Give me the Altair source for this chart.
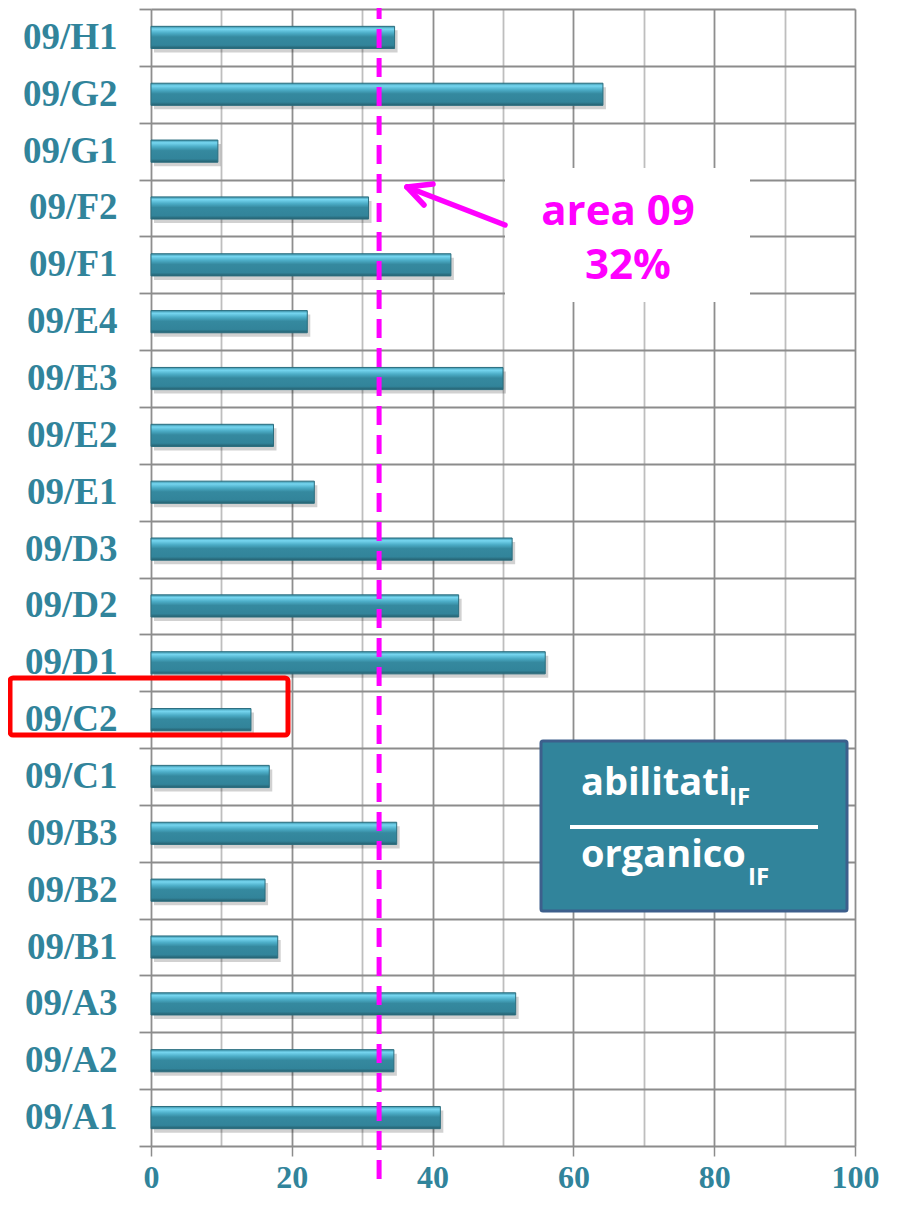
import altair as alt
import pandas as pd

# ---- data ----
categories = ["09/A1", "09/A2", "09/A3", "09/B1", "09/B2", "09/B3", "09/C1", "09/C2",
              "09/D1", "09/D2", "09/D3", "09/E1", "09/E2", "09/E3", "09/E4",
              "09/F1", "09/F2", "09/G1", "09/G2", "09/H1"]
values = [41.1, 34.5, 51.8, 18.0, 16.2, 34.9, 16.8, 14.2,
          56.0, 43.7, 51.3, 23.2, 17.4, 50.0, 22.2,
          42.6, 30.9, 9.5, 64.2, 34.6]
area_mean = 32.4
area_label = ["area 09", "32%"]
x_ticks = [0, 10, 20, 30, 40, 50, 60, 70, 80, 90, 100]

order_top_down = list(reversed(categories))
df = pd.DataFrame({"settore": categories, "valore": values})

TEAL = "#31849B"
MAGENTA = "#FF00FF"
GRID = "#8C8C8C"
W, H = 704, 1137

bar_grad = alt.Gradient(
    gradient="linear",
    stops=[
        alt.GradientStop(color="#3A8FA6", offset=0),
        alt.GradientStop(color="#76D6F0", offset=0.12),
        alt.GradientStop(color="#4CADC7", offset=0.3),
        alt.GradientStop(color="#35899F", offset=0.48),
        alt.GradientStop(color="#32849A", offset=0.85),
        alt.GradientStop(color="#255F6E", offset=1),
    ],
    x1=0, x2=0, y1=0, y2=1,
)

x_enc = alt.X(
    "valore:Q",
    scale=alt.Scale(domain=[0, 100], nice=False),
    axis=alt.Axis(
        title=None,
        values=x_ticks,
        labelExpr="datum.value % 20 == 0 ? datum.label : ''",
        labelFlush=False,
        labelOverlap=False,
        labelFont="Liberation Serif",
        labelFontWeight="bold",
        labelFontSize=32,
        labelColor=TEAL,
        labelPadding=6,
        tickSize=10,
        tickColor=GRID,
        tickWidth=1.5,
        tickOpacity={"condition": {"test": "datum.value % 20 != 0", "value": 0}, "value": 1},
        grid=True,
        gridColor={"condition": {"test": "datum.value % 20 != 0", "value": "#BEBEBE"}, "value": "#8E8E8E"},
        gridWidth=1.8,
        domain=False,
    ),
)
y_enc = alt.Y(
    "settore:N",
    sort=order_top_down,
    scale=alt.Scale(paddingInner=0, paddingOuter=0),
    axis=alt.Axis(
        title=None,
        tickBand="extent",
        labelFont="Liberation Serif",
        labelFontWeight="bold",
        labelFontSize=37,
        labelColor=TEAL,
        labelPadding=22,
        tickSize=12,
        tickColor=GRID,
        tickWidth=1.8,
        grid=True,
        gridColor=GRID,
        gridWidth=1.8,
        domain=False,
    ),
)

base = alt.Chart(df)
shadow = base.mark_bar(
    height=alt.RelativeBandSize(0.39), color="#000000", opacity=0.18, xOffset=3, yOffset=4
).encode(x=x_enc, y=y_enc)
bars = base.mark_bar(
    height=alt.RelativeBandSize(0.39), color=bar_grad, stroke="#2B6E7F", strokeWidth=1
).encode(x=x_enc, y=y_enc)


def one():
    return alt.Chart(pd.DataFrame({"k": [0]}))


# white background behind the "area 09" label
label_bg = one().mark_rect(color="white").encode(
    x=alt.value(354), x2=alt.value(599), y=alt.value(159), y2=alt.value(293)
)
label1 = one().mark_text(
    text=area_label[0], font="Open Sans", fontWeight="bold", fontSize=42,
    color=MAGENTA, align="center", baseline="middle"
).encode(x=alt.value(467), y=alt.value(203))
label2 = one().mark_text(
    text=area_label[1], font="Open Sans", fontWeight="bold", fontSize=42,
    color=MAGENTA, align="center", baseline="middle"
).encode(x=alt.value(477), y=alt.value(257))

# mean line (data value) extending beyond the plot
mean_df = pd.DataFrame({"m": [area_mean]})
mean_rule = alt.Chart(mean_df).mark_rule(
    color=MAGENTA, strokeWidth=5, strokeDash=[19, 10]
).encode(x=alt.X("m:Q", scale=alt.Scale(domain=[0, 100], nice=False)),
         y=alt.value(-9), y2=alt.value(1171))

# arrow
arrow_style = dict(color=MAGENTA, strokeWidth=5.5, strokeCap="round")
shaft = one().mark_rule(**arrow_style).encode(
    x=alt.value(256), y=alt.value(178), x2=alt.value(354), y2=alt.value(216))
head1 = one().mark_rule(**arrow_style).encode(
    x=alt.value(256), y=alt.value(178), x2=alt.value(282), y2=alt.value(175))
head2 = one().mark_rule(**arrow_style).encode(
    x=alt.value(256), y=alt.value(178), x2=alt.value(273), y2=alt.value(196))

# formula box
box = one().mark_rect(color=TEAL, stroke="#3D5F8C", strokeWidth=3, cornerRadius=2).encode(
    x=alt.value(390), x2=alt.value(696), y=alt.value(732), y2=alt.value(902))
num = one().mark_text(text="abilitati", font="Open Sans", fontWeight="bold", fontSize=38,
                      color="white", align="left", baseline="alphabetic").encode(
    x=alt.value(430), y=alt.value(786))
num_sub = one().mark_text(text="IF", font="Open Sans", fontWeight="bold", fontSize=24,
                          color="white", align="left", baseline="alphabetic").encode(
    x=alt.value(578), y=alt.value(796))
frac = one().mark_rule(color="white", strokeWidth=4).encode(
    x=alt.value(419), x2=alt.value(667), y=alt.value(818))
den = one().mark_text(text="organico", font="Open Sans", fontWeight="bold", fontSize=38,
                      color="white", align="left", baseline="alphabetic").encode(
    x=alt.value(430), y=alt.value(858))
den_sub = one().mark_text(text="IF", font="Open Sans", fontWeight="bold", fontSize=24,
                          color="white", align="left", baseline="alphabetic").encode(
    x=alt.value(597), y=alt.value(876))

# red highlight around 09/C2
highlight = one().mark_rect(fill=None, fillOpacity=0, stroke="#FF0000", strokeWidth=5,
                            cornerRadius=3).encode(
    x=alt.value(-141), x2=alt.value(137), y=alt.value(669), y2=alt.value(726))

chart = alt.layer(
    shadow, bars, label_bg, mean_rule, label1, label2,
    shaft, head1, head2, box, num, num_sub, frac, den, den_sub, highlight
).properties(
    width=W, height=H,
    autosize=alt.AutoSizeParams(type="none"),
    padding={"left": 143, "top": 1, "right": 39, "bottom": 50},
).configure_view(stroke=None).configure(background="white")

chart.save("out.html", embed_options={"renderer": "svg", "actions": False})
